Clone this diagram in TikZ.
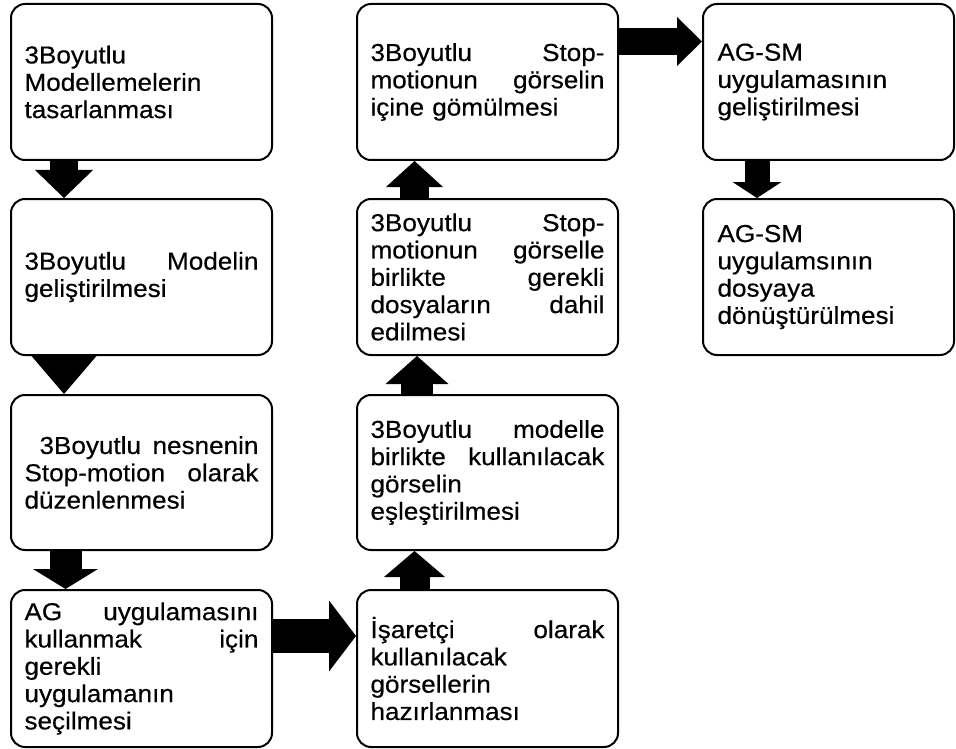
\documentclass[tikz,border=0pt]{standalone}
\usepackage{fontspec}
\setmainfont[FakeStretch=1.065,FakeBold=0.4]{Liberation Sans}
\usetikzlibrary{arrows.meta}
\tikzset{
  stepbox/.style={draw, line width=2pt, rounded corners=14pt, minimum width=261pt,
    minimum height=156pt, text width=234pt, align=left, inner sep=0pt, outer sep=1pt,
    font=\fontsize{24.5}{27.3}\selectfont},
  narrowbox/.style={stepbox, minimum width=251pt, text width=222pt},
  barrow/.style n args={3}{line width=#1, -{Triangle[width=#2,length=#3,line width=0pt]}}
}
\begin{document}
\begin{tikzpicture}[x=1pt,y=-1pt]
\useasboundingbox (0,0) rectangle (956,749);
% column 1
\node[stepbox] (n1) at (141.5,82) {3Boyutlu\\Modellemelerin\\tasarlanması};
\node[stepbox] (n2) at (141.5,277) {3Boyutlu\hfill Modelin\\geliştirilmesi};
\node[stepbox, minimum height=155pt] (n3) at (141.5,472.5) {\hspace*{15pt}3Boyutlu\hfill nesnenin\\Stop-motion\hfill olarak\\düzenlenmesi};
\node[stepbox, minimum height=157pt] (n4) at (141.5,668.5) {AG\hfill uygulamasını\\kullanmak\hfill için\\gerekli\\uygulamanın\\seçilmesi};
% column 2
\node[stepbox] (n5) at (487.5,82) {3Boyutlu\hfill Stop-\\motionun\hfill görselin\\içine gömülmesi};
\node[stepbox] (n6) at (487.5,277) {3Boyutlu\hfill Stop-\\motionun\hfill görselle\\birlikte\hfill gerekli\\dosyaların\hfill dahil\\edilmesi};
\node[stepbox, minimum height=155pt] (n7) at (487.5,472.5) {3Boyutlu\hfill modelle\\birlikte\hfill kullanılacak\\görselin\\eşleştirilmesi};
\node[stepbox, minimum height=157pt] (n8) at (487.5,668.5) {İşaretçi\hfill olarak\\kullanılacak\\görsellerin\\hazırlanması};
% column 3
\node[narrowbox] (n9) at (828.5,82) {AG-SM\\uygulamasının\\geliştirilmesi};
\node[narrowbox] (n10) at (828.5,277) {AG-SM\\uygulamsının\\dosyaya\\dönüştürülmesi};
% arrows
\draw[barrow={28pt}{58pt}{28pt}] (n1.south -| 64,0) -- (n2.north -| 64,0);
\draw[barrow={32pt}{65pt}{38pt}] (n2.south -| 64,0) -- (n3.north -| 64,0);
\draw[barrow={32pt}{65pt}{20pt}] (n3.south -| 65.5,0) -- (n4.north -| 65.5,0);
\draw[barrow={34pt}{71pt}{27pt}] (n4.east |- 0,636) -- (n8.west |- 0,636);
\draw[barrow={30pt}{61pt}{26pt}] (n8.north -| 414.5,0) -- (n7.south -| 414.5,0);
\draw[barrow={32pt}{63pt}{28pt}] (n7.north -| 417,0) -- (n6.south -| 417,0);
\draw[barrow={29pt}{57pt}{26pt}] (n6.north -| 414.5,0) -- (n5.south -| 414.5,0);
\draw[barrow={27pt}{49pt}{25pt}] (n5.east |- 0,41.5) -- (n9.west |- 0,41.5);
\draw[barrow={25pt}{49pt}{16pt}] (n9.south -| 757,0) -- (n10.north -| 757,0);
\end{tikzpicture}
\end{document}
